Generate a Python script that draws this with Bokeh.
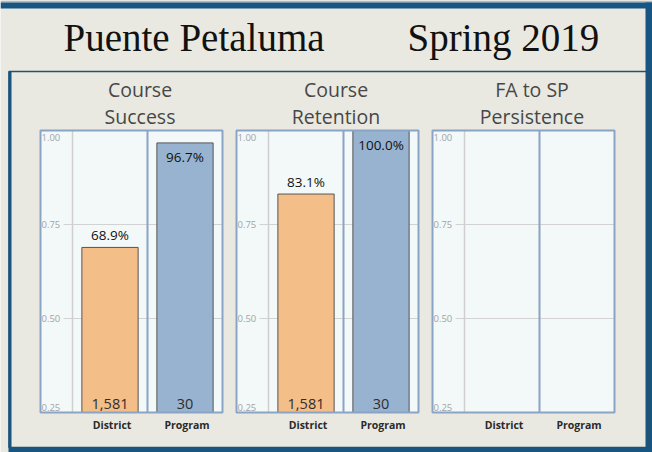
from bokeh.plotting import figure
from bokeh.models import Range1d, ColumnDataSource
from bokeh.core.properties import value
from bokeh.embed import file_html
from bokeh.resources import INLINE

# ---------------- data ----------------
main_title_left = "Puente Petaluma"
main_title_right = "Spring 2019"
panel_titles = [["Course", "Success"], ["Course", "Retention"], ["FA to SP", "Persistence"]]
categories = ["District", "Program"]
success_rate = [0.689, 0.967]
success_count = [1581, 30]
retention_rate = [0.831, 1.000]
retention_count = [1581, 30]
persistence_rate = []
persistence_count = []
y_ticks = [0.25, 0.50, 0.75, 1.00]
y_tick_labels = ["0.25", "0.50", "0.75", "1.00"]
Y_MIN, Y_MAX = 0.25, 1.00

panels = [
    (panel_titles[0], success_rate, success_count),
    (panel_titles[1], retention_rate, retention_count),
    (panel_titles[2], persistence_rate, persistence_count),
]

# ---------------- styles ----------------
W, H = 652, 452
BG = "#e9e9e1"
FRAME_BLUE = "#175683"
PLOT_BG = "#f3f9f9"
PANEL_LINE = "#8aa4c6"
AXIS_LINE = "#cfcfcf"
GRID = "#d2d2d2"
TICK_TXT = "#a3a3a3"
BAR_COLORS = ["#f4be88", "#97b3cf"]
BAR_LINE = "#555555"
FONT = "Open Sans"

# pixel layout of the panels
PX_TOP, PX_BOTTOM = 130, 412          # y of Y_MAX and Y_MIN
PX_PER_UNIT = (PX_BOTTOM - PX_TOP) / (Y_MAX - Y_MIN)
AXIS_PX = [72, 268, 464]              # x of each panel's value-axis line
CELL_PX = 75                          # width of one category cell
AXIS_PANE_PX = 32                     # width of the tick-label pane

p = figure(width=W, height=H, x_range=Range1d(0, W), y_range=Range1d(H, 0),
           output_backend="svg", toolbar_location=None, min_border=0,
           x_axis_location=None, y_axis_location=None,
           outline_line_color=None, background_fill_color=BG, border_fill_color=BG,
           styles={"margin-left": "0px", "margin-top": "0px"})
p.grid.visible = False

# value range shared by all panels
y_start = Y_MAX - (H - PX_TOP) / PX_PER_UNIT
y_end = Y_MAX + PX_TOP / PX_PER_UNIT
p.extra_y_ranges = {"val": Range1d(y_start, y_end)}
# one x range per panel: category index 0, 1 at the cell centres
xr = {}
for i, ax in enumerate(AXIS_PX):
    c0 = ax + CELL_PX / 2
    xr[f"p{i}"] = Range1d(-c0 / CELL_PX, (W - c0) / CELL_PX)
p.extra_x_ranges = xr

# ---------------- frame decoration (pixel coordinates) ----------------
p.quad(left=0, right=W, top=0, bottom=2, fill_color="#b8b8b8", line_color=None)
p.quad(left=0, right=W, top=2, bottom=8, fill_color=FRAME_BLUE, line_color=None)
p.quad(left=645, right=W, top=2, bottom=H, fill_color=FRAME_BLUE, line_color=None)
p.quad(left=8, right=W, top=447, bottom=H, fill_color=FRAME_BLUE, line_color=None)
p.quad(left=8.5, right=647.5, top=71, bottom=447, fill_color=None,
       line_color="#2a4f6c", line_width=1.5)
p.quad(left=8, right=11, top=71, bottom=447, fill_color=FRAME_BLUE, line_color=None)

p.text(x=[63], y=[37], text=[main_title_left], text_font=value("Liberation Serif"),
       text_font_size="39px", text_color="#111111", text_baseline="middle",
       text_align="left")
p.text(x=[407], y=[37], text=[main_title_right], text_font=value("Liberation Serif"),
       text_font_size="39px", text_color="#111111", text_baseline="middle",
       text_align="left")

# ---------------- panels ----------------
left_u = -0.5 - AXIS_PANE_PX / CELL_PX
right_u = len(categories) - 0.5
tick_start_u = -0.5 - 9 / CELL_PX

for i, (tlines, rates, counts) in enumerate(panels):
    xn = f"p{i}"
    p.quad(left=left_u, right=right_u, bottom=Y_MIN, top=Y_MAX, fill_color=PLOT_BG,
           line_color=None, x_range_name=xn, y_range_name="val")
    inner = [t for t in y_ticks if Y_MIN < t < Y_MAX]
    p.segment(x0=[tick_start_u] * len(inner), x1=[right_u] * len(inner), y0=inner, y1=inner,
              line_color=GRID, line_width=1, x_range_name=xn, y_range_name="val")
    p.segment(x0=[-0.5], x1=[-0.5], y0=[Y_MIN], y1=[Y_MAX], line_color=AXIS_LINE,
              line_width=1.5, x_range_name=xn, y_range_name="val")
    p.segment(x0=[0.5], x1=[0.5], y0=[Y_MIN], y1=[Y_MAX], line_color=PANEL_LINE,
              line_width=2, x_range_name=xn, y_range_name="val")
    for t, lab in zip(y_ticks, y_tick_labels):
        if t >= Y_MAX:
            base, off = "top", 3
        elif t <= Y_MIN:
            base, off = "bottom", -2
        else:
            base, off = "middle", 0
        p.text(x=[left_u], y=[t], text=[lab], x_offset=1, y_offset=off,
               text_baseline=base, text_align="left", text_font=value(FONT),
               text_font_size="9.5px", text_color=TICK_TXT, x_range_name=xn, y_range_name="val")

    if rates:
        idx = list(range(len(rates)))
        src = ColumnDataSource(dict(
            x=idx, top=rates, color=BAR_COLORS[:len(rates)],
            cnt=[f"{n:,}" for n in counts]))
        p.vbar(x="x", top="top", bottom=Y_MIN, width=0.75, fill_color="color",
               line_color=BAR_LINE, line_width=1, source=src,
               x_range_name=xn, y_range_name="val")
        above = [k for k, r in enumerate(rates) if r < 0.9]
        inside = [k for k, r in enumerate(rates) if r >= 0.9]
        if above:
            p.text(x=[idx[k] for k in above], y=[rates[k] for k in above],
                   text=[f"{rates[k] * 100:.1f}%" for k in above], y_offset=-3,
                   text_baseline="bottom", text_align="center", text_font=value(FONT),
                   text_font_size="13.5px", text_color="#111111",
                   x_range_name=xn, y_range_name="val")
        if inside:
            p.text(x=[idx[k] for k in inside], y=[rates[k] for k in inside],
                   text=[f"{rates[k] * 100:.1f}%" for k in inside], y_offset=5,
                   text_baseline="top", text_align="center", text_font=value(FONT),
                   text_font_size="13.5px", text_color="#111111",
                   x_range_name=xn, y_range_name="val")
        p.text(x="x", y=Y_MIN, text="cnt", source=src, y_offset=-4,
               text_baseline="bottom", text_align="center", text_font=value(FONT),
               text_font_size="14.5px", text_color="#2e2e2e",
               x_range_name=xn, y_range_name="val")

    p.quad(left=left_u, right=right_u, bottom=Y_MIN, top=Y_MAX, fill_color=None,
           line_color=PANEL_LINE, line_width=2, x_range_name=xn, y_range_name="val")

    p.text(x=list(range(len(categories))), y=[424] * len(categories), text=categories,
           x_offset=2, text_baseline="middle", text_align="center", text_font=value(FONT),
           text_font_size="10.5px", text_font_style="bold", text_color="#2a2a2a",
           x_range_name=xn)
    p.text(x=[0.4] * len(tlines), y=[89, 116][:len(tlines)], text=tlines,
           text_baseline="middle", text_align="center", text_font=value(FONT),
           text_font_size="19.5px", text_color="#474747", x_range_name=xn)

open("out.html", "w").write(file_html(p, INLINE))
